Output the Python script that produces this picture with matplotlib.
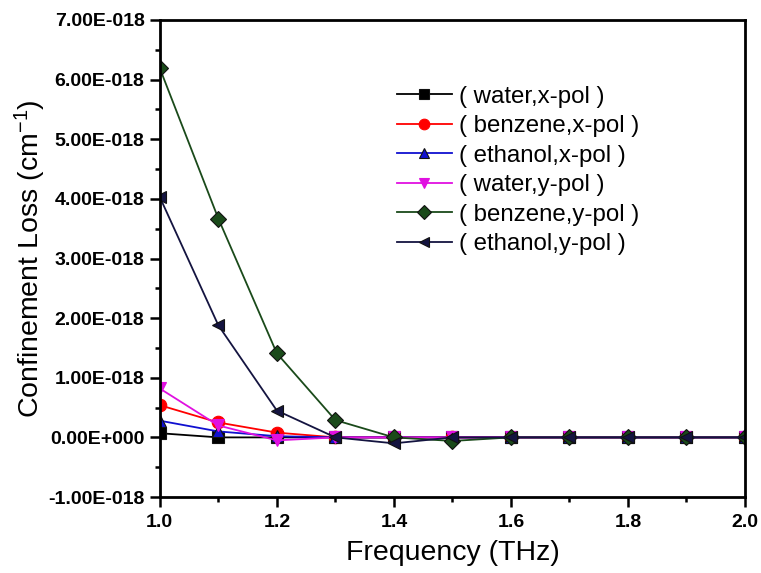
import matplotlib
matplotlib.use("Agg")
import matplotlib.pyplot as plt
from matplotlib.ticker import MultipleLocator, FixedLocator, FixedFormatter

plt.rcParams['font.family'] = ['Liberation Sans', 'DejaVu Sans']
plt.rcParams['mathtext.default'] = 'regular'

# frequency points (THz)
freq = [1.0, 1.1, 1.2, 1.3, 1.4, 1.5, 1.6, 1.7, 1.8, 1.9, 2.0]

# confinement loss, units of 1e-18 cm^-1
water_x = [0.07, 0.0, 0.0, 0.0, 0.0, 0.0, 0.0, 0.0, 0.0, 0.0, 0.0]
benzene_x = [0.54, 0.25, 0.08, 0.0, 0.0, 0.0, 0.0, 0.0, 0.0, 0.0, 0.0]
ethanol_x = [0.28, 0.10, 0.02, 0.0, 0.0, 0.0, 0.0, 0.0, 0.0, 0.0, 0.0]
water_y = [0.82, 0.20, -0.05, 0.0, 0.0, 0.0, 0.0, 0.0, 0.0, 0.0, 0.0]
benzene_y = [6.19, 3.67, 1.41, 0.29, 0.0, -0.06, 0.0, 0.0, 0.0, 0.0, 0.0]
ethanol_y = [4.03, 1.88, 0.45, 0.0, -0.10, 0.0, 0.0, 0.0, 0.0, 0.0, 0.0]

ytick_vals = [-1, 0, 1, 2, 3, 4, 5, 6, 7]
ytick_labels = ['-1.00E-018', '0.00E+000', '1.00E-018', '2.00E-018', '3.00E-018',
                '4.00E-018', '5.00E-018', '6.00E-018', '7.00E-018']

series = [
    (water_x, '( water,x-pol )', 'black', 's', 8),
    (benzene_x, '( benzene,x-pol )', 'red', 'o', 9),
    (ethanol_x, '( ethanol,x-pol )', '#1010d0', '^', 9),
    (water_y, '( water,y-pol )', '#e010e0', 'v', 9),
    (benzene_y, '( benzene,y-pol )', '#1a4a1a', 'D', 8),
    (ethanol_y, '( ethanol,y-pol )', '#141440', '<', 9),
]

fig = plt.figure(figsize=(7.61, 5.73), dpi=100)
ax = fig.add_axes([0.210, 0.1326, 0.769, 0.8325])

for vals, lab, col, mk, ms in series:
    edge = col if col in ('red', '#e010e0') else '#111111'
    ax.plot(freq, vals, color=col, marker=mk, markersize=ms,
            markeredgecolor=edge, markeredgewidth=0.8, linewidth=1.3, label=lab)

ax.set_xlim(1.0, 2.0)
ax.set_ylim(-1, 7)
ax.xaxis.set_major_locator(MultipleLocator(0.2))
ax.xaxis.set_minor_locator(MultipleLocator(0.1))
ax.xaxis.set_major_formatter(plt.FuncFormatter(lambda v, p: f"{v:.1f}"))
ax.yaxis.set_major_locator(FixedLocator(ytick_vals))
ax.yaxis.set_major_formatter(FixedFormatter(ytick_labels))
ax.yaxis.set_minor_locator(MultipleLocator(0.5))

ax.tick_params(which='both', direction='out', top=False, right=False, width=1.8)
ax.tick_params(which='major', length=7)
ax.tick_params(which='minor', length=3.5)
ax.tick_params(axis='y', pad=4)
ax.tick_params(axis='x', pad=5)
for lbl in ax.get_xticklabels() + ax.get_yticklabels():
    lbl.set_fontsize(14)
    lbl.set_fontweight('bold')
for s in ax.spines.values():
    s.set_linewidth(2.0)

ax.set_xlabel('Frequency (THz)', fontsize=20.5, labelpad=7)
ax.set_ylabel('Confinement Loss (cm$^{-1}$)', fontsize=20.5, labelpad=0)

ax.legend(loc='upper left', bbox_to_anchor=(0.405, 0.862), frameon=False, fontsize=17.3,
          borderaxespad=0, borderpad=0, handlelength=2.3, labelspacing=0.31,
          handletextpad=0.3, markerscale=0.85)

fig.savefig('out.png', dpi=100)
